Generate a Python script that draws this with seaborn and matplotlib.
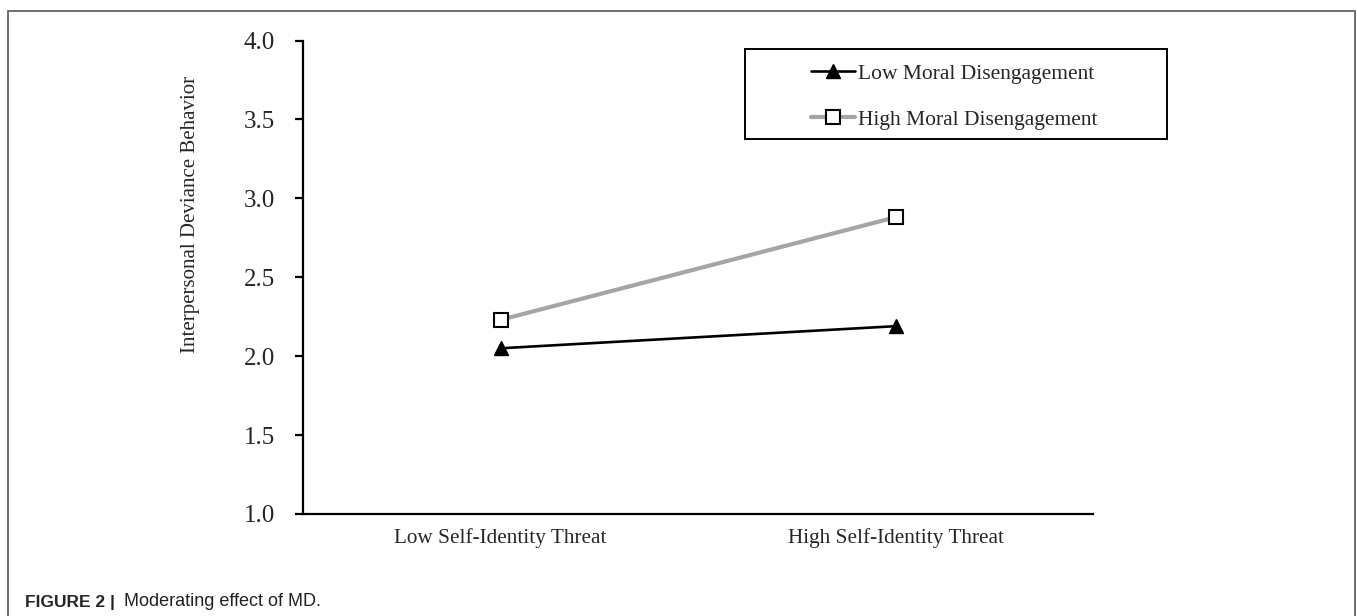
import matplotlib
matplotlib.use("Agg")
import pandas as pd
import seaborn as sns
from matplotlib import pyplot as plt
from matplotlib.patches import Rectangle
from matplotlib.lines import Line2D

# data
threat = ["Low Self-Identity Threat", "High Self-Identity Threat"]
low_md = [2.05, 2.19]
high_md = [2.23, 2.88]
series = ["Low Moral Disengagement", "High Moral Disengagement"]
y_ticks = [1.0, 1.5, 2.0, 2.5, 3.0, 3.5, 4.0]

df = pd.DataFrame({
    "threat": threat * 2,
    "value": low_md + high_md,
    "group": [series[0]] * 2 + [series[1]] * 2,
})

sns.set_style("white")
plt.rcParams["font.family"] = ["Liberation Serif", "DejaVu Serif"]

fig = plt.figure(figsize=(13.57, 6.16), dpi=100)
ax = fig.add_axes([303 / 1357, 1 - 514 / 616, 790 / 1357, 473.5 / 616])

styles = {
    series[0]: dict(color="black", lw=1.9, marker="^", ms=10, mfc="black", mec="black", mew=1),
    series[1]: dict(color="#a5a5a5", lw=3.0, marker="s", ms=10, mfc="white", mec="black", mew=1.5),
}
for name in series[::-1]:
    st = styles[name]
    sns.lineplot(data=df[df["group"] == name], x="threat", y="value", ax=ax,
                 color=st["color"], linewidth=st["lw"], marker=st["marker"],
                 markersize=st["ms"], markerfacecolor=st["mfc"],
                 markeredgecolor=st["mec"], markeredgewidth=st["mew"],
                 legend=False, zorder=3)

ax.set_xlim(-0.5, 1.5)
ax.set_ylim(1.0, 4.0)
ax.set_yticks(y_ticks)
ax.set_yticklabels([f"{v:.1f}" for v in y_ticks], fontsize=18)
ax.set_xticks([0, 1])
ax.set_xticklabels(threat, fontsize=15.3)
ax.set_xticks([-0.5, 0.5, 1.5], minor=True)
ax.tick_params(axis="x", which="major", length=0, pad=10)
ax.tick_params(axis="x", which="minor", length=6, width=1.6, direction="out", color="black")
ax.tick_params(axis="y", length=6, width=1.6, direction="out", color="black", pad=14, left=True)
ax.set_xlabel("")
ax.set_ylabel("Interpersonal Deviance Behavior", fontsize=15)
ax.yaxis.set_label_coords(-0.13, 0.632)
sns.despine(ax=ax)
for side in ["left", "bottom"]:
    ax.spines[side].set_color("black")
    ax.spines[side].set_linewidth(1.6)

# legend box and entries
ax.add_patch(Rectangle((0.559, 0.792), 0.535, 0.191, transform=ax.transAxes,
                       fill=False, edgecolor="black", linewidth=1.4, clip_on=False))
handles = [Line2D([], [], color=styles[n]["color"], lw=styles[n]["lw"], marker=styles[n]["marker"],
                  ms=styles[n]["ms"] * 0.95, mfc=styles[n]["mfc"], mec=styles[n]["mec"],
                  mew=styles[n]["mew"]) for n in series]
ax.legend(handles, series, loc="center left", bbox_to_anchor=(0.63, 0.881),
          frameon=False, fontsize=15.5, handlelength=2.0, handletextpad=0.15,
          labelspacing=1.2, borderpad=0)

# figure frame and caption
fig.patches.append(Rectangle((8 / 1357, -0.1), 1347 / 1357, 1.1 - 11 / 616,
                             transform=fig.transFigure, fill=False,
                             edgecolor="#555555", linewidth=1.2))
fig.text(25 / 1357, 1 - 602 / 616, "FIGURE 2 |", fontsize=12.5, fontweight="bold",
         family=["Liberation Sans", "DejaVu Sans"], va="center", ha="left")
fig.text(124 / 1357, 1 - 602 / 616, "Moderating effect of MD.", fontsize=13,
         family=["Liberation Sans", "DejaVu Sans"], va="center", ha="left", color="#222222")

fig.savefig("out.png", dpi=100)
